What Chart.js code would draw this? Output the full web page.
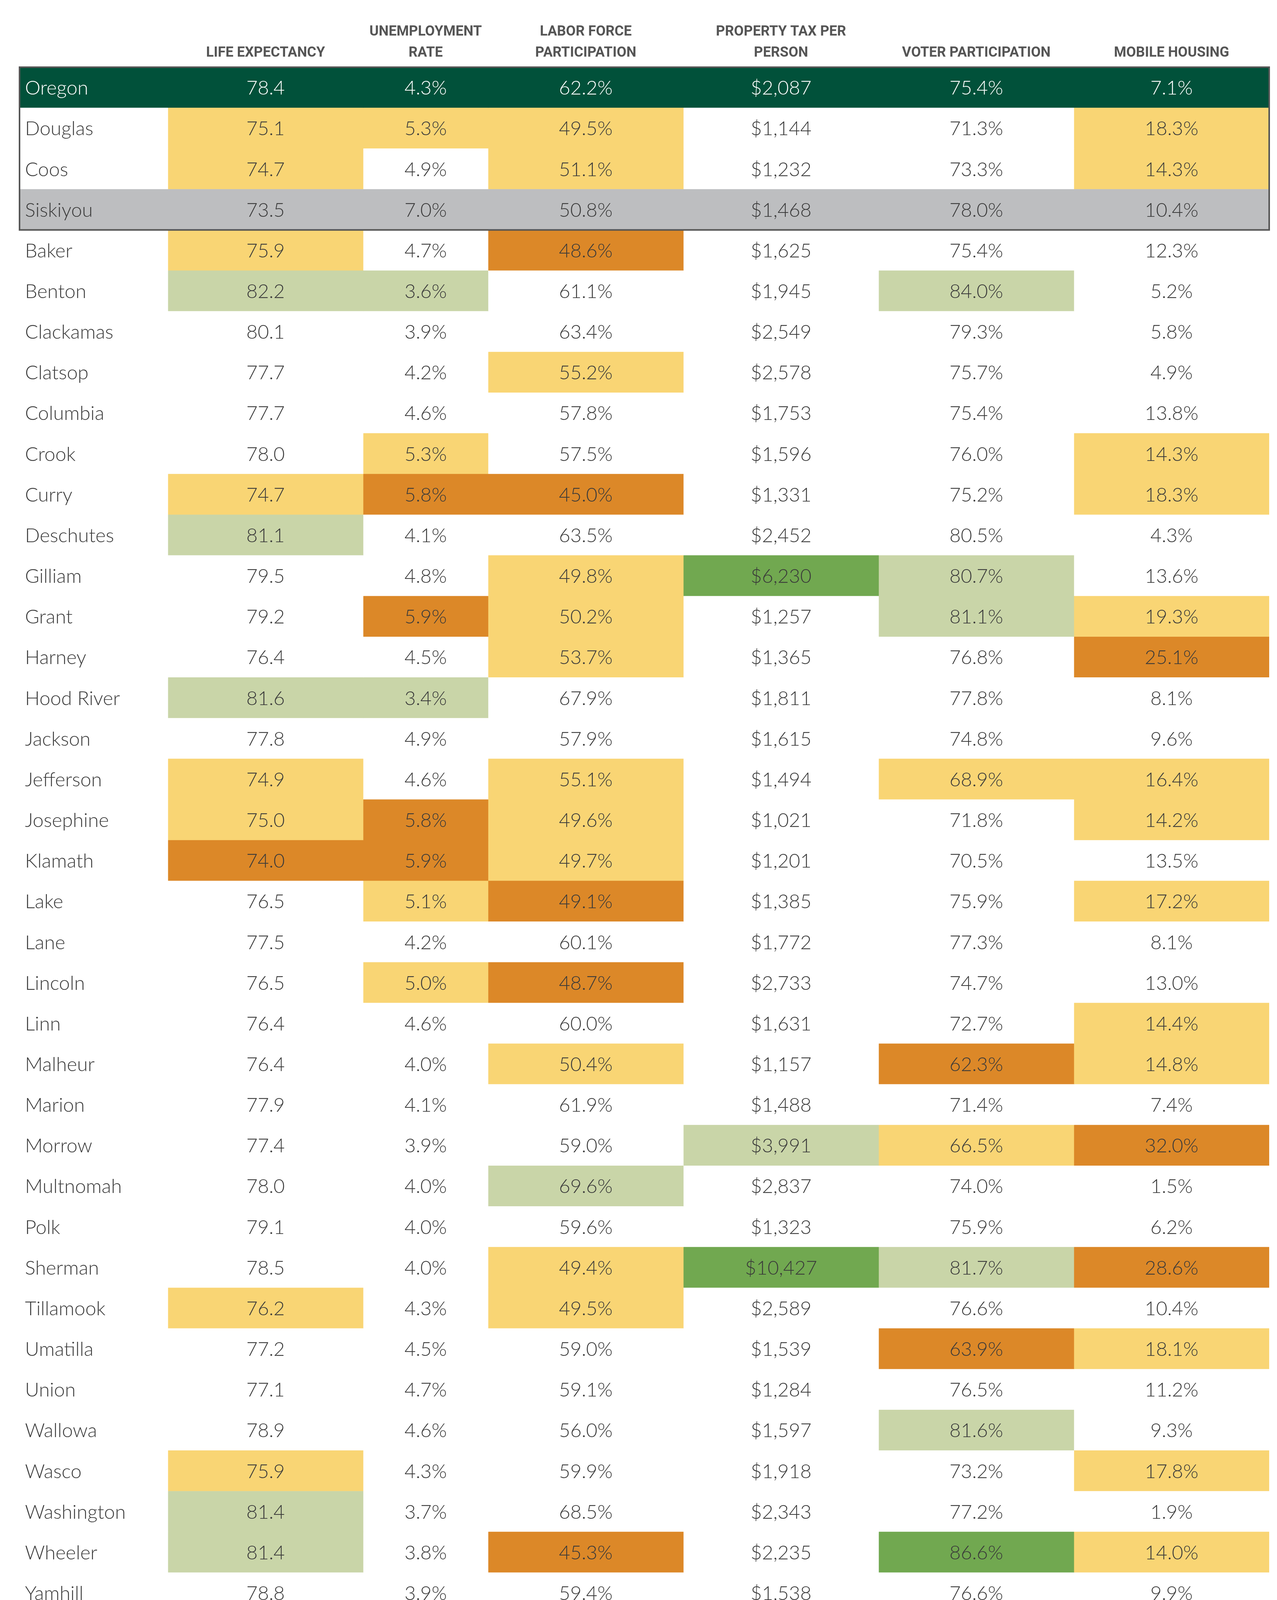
<!DOCTYPE html>
<html><head><meta charset="utf-8">
<script src="https://cdn.jsdelivr.net/npm/chart.js@4.4.1/dist/chart.umd.min.js"></script>
<style>html,body{margin:0;padding:0;background:#fff}canvas{display:block}</style>
</head><body>
<canvas id="c" width="3270" height="4170"></canvas>
<script>
// ---------- DATA ----------
const counties = ['Oregon','Douglas','Coos','Siskiyou','Baker','Benton','Clackamas','Clatsop','Columbia','Crook','Curry','Deschutes','Gilliam','Grant','Harney','Hood River','Jackson','Jefferson','Josephine','Klamath','Lake','Lane','Lincoln','Linn','Malheur','Marion','Morrow','Multnomah','Polk','Sherman','Tillamook','Umatilla','Union','Wallowa','Wasco','Washington','Wheeler','Yamhill'];

const headerLabels = ['LIFE EXPECTANCY', ['UNEMPLOYMENT','RATE'], ['LABOR FORCE','PARTICIPATION'], ['PROPERTY TAX PER','PERSON'], 'VOTER PARTICIPATION', 'MOBILE HOUSING'];

const lifeExpectancy = [78.4,75.1,74.7,73.5,75.9,82.2,80.1,77.7,77.7,78.0,74.7,81.1,79.5,79.2,76.4,81.6,77.8,74.9,75.0,74.0,76.5,77.5,76.5,76.4,76.4,77.9,77.4,78.0,79.1,78.5,76.2,77.2,77.1,78.9,75.9,81.4,81.4,78.8];
const unemploymentRate = [4.3,5.3,4.9,7.0,4.7,3.6,3.9,4.2,4.6,5.3,5.8,4.1,4.8,5.9,4.5,3.4,4.9,4.6,5.8,5.9,5.1,4.2,5.0,4.6,4.0,4.1,3.9,4.0,4.0,4.0,4.3,4.5,4.7,4.6,4.3,3.7,3.8,3.9];
const laborForce = [62.2,49.5,51.1,50.8,48.6,61.1,63.4,55.2,57.8,57.5,45.0,63.5,49.8,50.2,53.7,67.9,57.9,55.1,49.6,49.7,49.1,60.1,48.7,60.0,50.4,61.9,59.0,69.6,59.6,49.4,49.5,59.0,59.1,56.0,59.9,68.5,45.3,59.4];
const propertyTax = [2087,1144,1232,1468,1625,1945,2549,2578,1753,1596,1331,2452,6230,1257,1365,1811,1615,1494,1021,1201,1385,1772,2733,1631,1157,1488,3991,2837,1323,10427,2589,1539,1284,1597,1918,2343,2235,1538];
const voterParticipation = [75.4,71.3,73.3,78.0,75.4,84.0,79.3,75.7,75.4,76.0,75.2,80.5,80.7,81.1,76.8,77.8,74.8,68.9,71.8,70.5,75.9,77.3,74.7,72.7,62.3,71.4,66.5,74.0,75.9,81.7,76.6,63.9,76.5,81.6,73.2,77.2,86.6,76.6];
const mobileHousing = [7.1,18.3,14.3,10.4,12.3,5.2,5.8,4.9,13.8,14.3,18.3,4.3,13.6,19.3,25.1,8.1,9.6,16.4,14.2,13.5,17.2,8.1,13.0,14.4,14.8,7.4,32.0,1.5,6.2,28.6,10.4,18.1,11.2,9.3,17.8,1.9,14.0,9.9];

// row role: 'state' = Oregon, 'ref' = comparison county, '' = Oregon county
const rowRole = ['state','','','ref','','','','','','','','','','','','','','','','','','','','','','','','','','','','','','','','','',''];

// cell rating: w = worse, ww = much worse, b = better, bb = much better, '' = typical
const lifeRating = ['','w','w','','w','b','','','','','w','b','','','','b','','w','w','ww','','','','','','','','','','','w','','','','w','b','b',''];
const unempRating = ['','w','','','','b','','','','w','ww','','','ww','','b','','','ww','ww','w','','w','','','','','','','','','','','','','','',''];
const laborRating = ['','w','w','','ww','','','w','','','ww','','w','w','w','','','w','w','w','ww','','ww','','w','','','b','','w','w','','','','','','ww',''];
const taxRating = ['','','','','','','','','','','','','bb','','','','','','','','','','','','','','b','','','bb','','','','','','','',''];
const voterRating = ['','','','','','b','','','','','','','b','b','','','','w','','','','','','','ww','','w','','','b','','ww','','b','','','bb',''];
const mobileRating = ['','w','w','','','','','','','w','w','','','w','ww','','','w','w','','w','','','w','w','','ww','','','ww','','w','','','w','','w',''];

// ---------- LAYOUT / STYLE ----------
const colEdges = [0,380,880,1200,1700,2200,2700,3200];
const ratingColor = {'':'#FFFFFF', w:'#F9D574', ww:'#DC8828', b:'#C9D5A8', bb:'#71A850'};
const roleColor = {state:'#01513A', ref:'#BDBEC0'};
const textDark = '#3a3a3a';

const columns = [
  {values: counties, rating: counties.map(()=>''), fmt: v => v, align:'left'},
  {values: lifeExpectancy, rating: lifeRating, fmt: v => v.toFixed(1)},
  {values: unemploymentRate, rating: unempRating, fmt: v => v.toFixed(1)+'%'},
  {values: laborForce, rating: laborRating, fmt: v => v.toFixed(1)+'%'},
  {values: propertyTax, rating: taxRating, fmt: v => '$'+v.toLocaleString('en-US')},
  {values: voterParticipation, rating: voterRating, fmt: v => v.toFixed(1)+'%'},
  {values: mobileHousing, rating: mobileRating, fmt: v => v.toFixed(1)+'%'}
];

const datasets = columns.map((col, ci) => ({
  label: 'col'+ci,
  data: counties.map(() => [colEdges[ci], colEdges[ci+1]]),
  backgroundColor: counties.map((_, ri) => rowRole[ri] ? roleColor[rowRole[ri]] : ratingColor[col.rating[ri]]),
  borderWidth: 0,
  barPercentage: 1,
  categoryPercentage: 1
}));

const headerCenters = colEdges.slice(1, 7).map((e, i) => (e + colEdges[i+2]) / 2);

const cellText = {
  id: 'cellText',
  afterDatasetsDraw(chart) {
    const ctx = chart.ctx;
    ctx.save();
    ctx.font = '300 50px Lato';
    ctx.textBaseline = 'middle';
    columns.forEach((col, ci) => {
      const meta = chart.getDatasetMeta(ci);
      meta.data.forEach((el, ri) => {
        const left = Math.min(el.x, el.base), right = Math.max(el.x, el.base);
        ctx.fillStyle = rowRole[ri] === 'state' ? '#FFFFFF' : textDark;
        const txt = String(col.fmt(col.values[ri]));
        if (col.align === 'left') { ctx.textAlign = 'left'; ctx.fillText(txt, left + 14, el.y + 2); }
        else { ctx.textAlign = 'center'; ctx.fillText(txt, (left + right) / 2, el.y + 2); }
      });
    });
    // frame around the state + comparison block
    const ys = chart.scales.y, xs = chart.scales.x;
    const rowH = ys.getPixelForValue(1) - ys.getPixelForValue(0);
    const first = rowRole.indexOf('state'), last = rowRole.indexOf('ref');
    const top = ys.getPixelForValue(first) - rowH / 2, bottom = ys.getPixelForValue(last) + rowH / 2;
    ctx.strokeStyle = '#555555';
    ctx.lineWidth = 4;
    ctx.strokeRect(xs.getPixelForValue(colEdges[0]), top, xs.getPixelForValue(colEdges[7]) - xs.getPixelForValue(colEdges[0]), bottom - top);
    ctx.restore();
  }
};

new Chart(document.getElementById('c'), {
  type: 'bar',
  data: { labels: counties, datasets },
  options: {
    indexAxis: 'y',
    responsive: false,
    animation: false,
    devicePixelRatio: 1,
    events: [],
    layout: { padding: { left: 50, right: 20, top: 0, bottom: 40 } },
    plugins: { legend: { display: false }, tooltip: { enabled: false } },
    datasets: { bar: { grouped: false } },
    scales: {
      x: {
        type: 'linear', position: 'top', min: colEdges[0], max: colEdges[7],
        grid: { display: false }, border: { display: false },
        afterBuildTicks: axis => { axis.ticks = headerCenters.map(v => ({ value: v })); },
        afterFit: axis => { axis.height = 172; },
        ticks: {
          autoSkip: false, maxRotation: 0, minRotation: 0, padding: 1,
          color: '#555555',
          font: { family: 'Roboto', weight: '700', size: 36, lineHeight: 1.5 },
          callback: (v, i) => headerLabels[i]
        }
      },
      y: { type: 'category', display: false, offset: true, grid: { display: false } }
    }
  },
  plugins: [cellText]
});
</script>
</body></html>
